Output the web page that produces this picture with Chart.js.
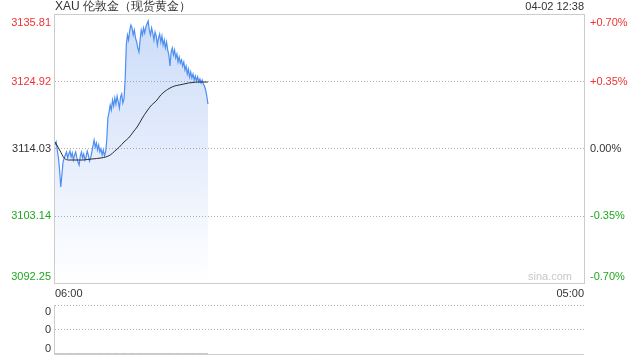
<!DOCTYPE html>
<html>
<head>
<meta charset="utf-8">
<script src="https://cdn.jsdelivr.net/npm/chart.js@4/dist/chart.umd.min.js"></script>
<style>
  html, body { margin: 0; padding: 0; background: #fff; }
  #wrap { position: relative; width: 640px; height: 360px; }
  #main { position: absolute; left: 0; top: 0; }
  #vol { position: absolute; left: 0; top: 300px; }
</style>
</head>
<body>
<div id="wrap">
  <canvas id="main" width="640" height="300"></canvas>
  <canvas id="vol" width="640" height="60"></canvas>
</div>
<script>
const title = 'XAU 伦敦金（现货黄金）';
const stamp = '04-02 12:38';
const xLabels = ['06:00', '05:00'];
const sessionMinutes = 1380;   // 06:00 -> 05:00
const step = 3;                // minutes between samples

const priceTicks = [3135.81, 3124.92, 3114.03, 3103.14, 3092.25];
const pctTicks = ['+0.70%', '+0.35%', '0.00%', '-0.35%', '-0.70%'];

const prices = [
    3114.68, 3115.17, 3113.87, 3112.57, 3110.62, 3107.85, 3109.80, 3111.92, 3112.57, 3113.05,
    3113.54, 3112.57, 3113.22, 3113.70, 3112.73, 3113.38, 3112.24, 3113.05, 3113.54, 3112.57,
    3111.92, 3111.43, 3112.89, 3113.54, 3112.57, 3113.22, 3112.24, 3112.73, 3113.70, 3113.05,
    3112.08, 3112.57, 3113.54, 3114.52, 3115.49, 3114.35, 3115.00, 3113.87, 3114.68, 3113.54,
    3114.03, 3113.05, 3113.87, 3112.89, 3113.54, 3115.49, 3119.07, 3120.04, 3121.18, 3120.37,
    3121.99, 3121.02, 3122.32, 3121.34, 3122.64, 3121.67, 3120.69, 3122.48, 3122.97, 3121.51,
    3122.16, 3125.24, 3130.93, 3132.56, 3131.75, 3133.37, 3134.18, 3133.70, 3132.56, 3133.37,
    3132.07, 3131.42, 3130.45, 3129.80, 3131.75, 3133.37, 3132.56, 3133.70, 3132.88, 3133.86,
    3134.35, 3134.83, 3133.37, 3132.56, 3133.70, 3132.88, 3131.75, 3133.05, 3132.40, 3130.93,
    3132.07, 3132.72, 3131.42, 3132.40, 3130.93, 3131.75, 3130.45, 3131.42, 3130.12, 3129.31,
    3127.52, 3129.80, 3130.45, 3129.31, 3130.12, 3128.82, 3129.47, 3128.17, 3128.98, 3128.01,
    3128.50, 3127.52, 3128.17, 3126.87, 3127.52, 3126.22, 3127.03, 3125.73, 3126.55, 3125.57,
    3126.22, 3125.24, 3125.90, 3125.08, 3125.73, 3124.92, 3125.41, 3124.76, 3125.24, 3124.59,
    3124.27, 3123.62, 3122.64, 3121.34
];

// average price line, sampled every 12 minutes
const avgMinutes = [0, 12, 24, 36, 48, 60, 72, 84, 96, 108, 120, 132, 144, 156, 168, 180, 192,
    204, 216, 228, 240, 252, 264, 276, 288, 300, 312, 324, 336, 348, 360, 372, 384, 396, 399];
const avgPrices = [3115.17, 3113.87, 3112.57, 3112.24, 3112.24, 3112.24, 3112.24, 3112.32, 3112.40,
    3112.48, 3112.57, 3112.73, 3113.05, 3113.70, 3114.35, 3115.17, 3115.82, 3116.79, 3117.77,
    3119.07, 3120.21, 3121.18, 3121.83, 3122.81, 3123.46, 3123.94, 3124.27, 3124.43, 3124.59,
    3124.76, 3124.84, 3124.92, 3124.92, 3124.92, 3124.92];

const volumes = prices.map(() => 0);
const volTicks = ['0', '0', '0'];

const RED = '#f03232';
const GREEN = '#1fa81f';
const TEXT = '#333';
const FONT = '"Liberation Sans", Arial, sans-serif';

const pricePoints = prices.map((p, i) => ({ x: i * step, y: p }));
const avgPoints = avgPrices.map((p, i) => ({ x: avgMinutes[i], y: p }));
const volPoints = volumes.map((v, i) => ({ x: i * step, y: v }));

function tickColor(i) {
    return i < 2 ? RED : i > 2 ? GREEN : TEXT;
}

const mainDecor = {
    id: 'mainDecor',
    afterDraw(chart) {
        const { ctx, chartArea: a, scales: { y } } = chart;
        ctx.save();
        ctx.strokeStyle = '#ccc';
        ctx.lineWidth = 1;
        ctx.strokeRect(a.left - 0.5, a.top - 0.5, a.right - a.left + 1, a.bottom - a.top + 1);

        ctx.font = '11px ' + FONT;
        priceTicks.forEach((v, i) => {
            let py = y.getPixelForValue(v);
            ctx.textBaseline = 'middle';
            if (i === 0) { ctx.textBaseline = 'top'; py = a.top + 2; }
            if (i === priceTicks.length - 1) { ctx.textBaseline = 'bottom'; py = a.bottom - 1; }
            ctx.fillStyle = tickColor(i);
            ctx.textAlign = 'right';
            ctx.fillText(String(v.toFixed(2)), a.left - 4, py);
            ctx.textAlign = 'left';
            ctx.fillText(pctTicks[i], a.right + 6, py);
        });

        ctx.fillStyle = TEXT;
        ctx.textBaseline = 'middle';
        ctx.textAlign = 'left';
        ctx.font = '12px ' + FONT;
        ctx.fillText(title, a.left, 7);
        ctx.font = '11px ' + FONT;
        ctx.textAlign = 'right';
        ctx.fillText(stamp, a.right, 7);

        ctx.textAlign = 'left';
        ctx.fillText(xLabels[0], a.left, a.bottom + 11);
        ctx.textAlign = 'right';
        ctx.fillText(xLabels[1], a.right, a.bottom + 11);

        ctx.fillStyle = '#c8c8c8';
        ctx.textBaseline = 'bottom';
        ctx.fillText('sina.com', a.right - 12, a.bottom - 1);
        ctx.restore();
    }
};

new Chart(document.getElementById('main'), {
    type: 'line',
    data: {
        datasets: [{
            data: avgPoints,
            borderColor: '#2b2b2b',
            borderWidth: 1,
            pointRadius: 0,
            cubicInterpolationMode: 'monotone',
            fill: false
        }, {
            data: pricePoints,
            borderColor: '#4d8ef2',
            borderWidth: 1.2,
            pointRadius: 0,
            tension: 0,
            fill: 'start',
            backgroundColor: c => {
                const a = c.chart.chartArea;
                if (!a) return 'transparent';
                const g = c.chart.ctx.createLinearGradient(0, a.top, 0, a.bottom);
                g.addColorStop(0, 'rgba(80,135,235,0.30)');
                g.addColorStop(0.6, 'rgba(80,135,235,0.12)');
                g.addColorStop(1, 'rgba(80,135,235,0.0)');
                return g;
            }
        }]
    },
    options: {
        responsive: false,
        animation: false,
        events: [],
        layout: { padding: { left: 0, right: 56, top: 15, bottom: 17 } },
        plugins: { legend: { display: false }, tooltip: { enabled: false } },
        scales: {
            x: { type: 'linear', min: 0, max: sessionMinutes, display: false },
            y: {
                min: priceTicks[4],
                max: priceTicks[0],
                afterBuildTicks: s => { s.ticks = priceTicks.map(v => ({ value: v })); },
                afterFit: s => { s.width = 55; },
                ticks: { display: false },
                border: { display: false, dash: [1, 2] },
                grid: {
                    drawTicks: false,
                    color: c => (c.index === 0 || c.index === 4) ? 'rgba(0,0,0,0)' : '#b0b0b0'
                }
            }
        }
    },
    plugins: [mainDecor]
});

const volDecor = {
    id: 'volDecor',
    afterDraw(chart) {
        const { ctx, chartArea: a, scales: { y } } = chart;
        ctx.save();
        ctx.strokeStyle = '#ccc';
        ctx.lineWidth = 1;
        ctx.beginPath();
        ctx.moveTo(a.left - 0.5, a.top);
        ctx.lineTo(a.left - 0.5, a.bottom + 0.5);
        ctx.lineTo(a.right, a.bottom + 0.5);
        ctx.stroke();
        ctx.font = '11px ' + FONT;
        ctx.fillStyle = TEXT;
        ctx.textAlign = 'right';
        [1, 0.5, 0].forEach((v, i) => {
            let py = y.getPixelForValue(v);
            ctx.textBaseline = 'middle';
            if (i === 0) { ctx.textBaseline = 'top'; py = a.top + 1; }
            if (i === 2) { ctx.textBaseline = 'bottom'; py = a.bottom; }
            ctx.fillText(volTicks[i], a.left - 4, py);
        });
        ctx.restore();
    }
};

new Chart(document.getElementById('vol'), {
    type: 'line',
    data: {
        datasets: [{
            data: volPoints,
            borderColor: '#888',
            borderWidth: 1,
            pointRadius: 0,
            fill: false
        }]
    },
    options: {
        responsive: false,
        animation: false,
        events: [],
        layout: { padding: { left: 0, right: 56, top: 5, bottom: 6 } },
        plugins: { legend: { display: false }, tooltip: { enabled: false } },
        scales: {
            x: { type: 'linear', min: 0, max: sessionMinutes, display: false },
            y: {
                min: 0,
                max: 1,
                afterBuildTicks: s => { s.ticks = [0, 0.5, 1].map(v => ({ value: v })); },
                afterFit: s => { s.width = 55; },
                ticks: { display: false },
                border: { display: false, dash: [1, 2] },
                grid: {
                    drawTicks: false,
                    color: c => c.index === 0 ? 'rgba(0,0,0,0)' : '#b0b0b0'
                }
            }
        }
    },
    plugins: [volDecor]
});
</script>
</body>
</html>
